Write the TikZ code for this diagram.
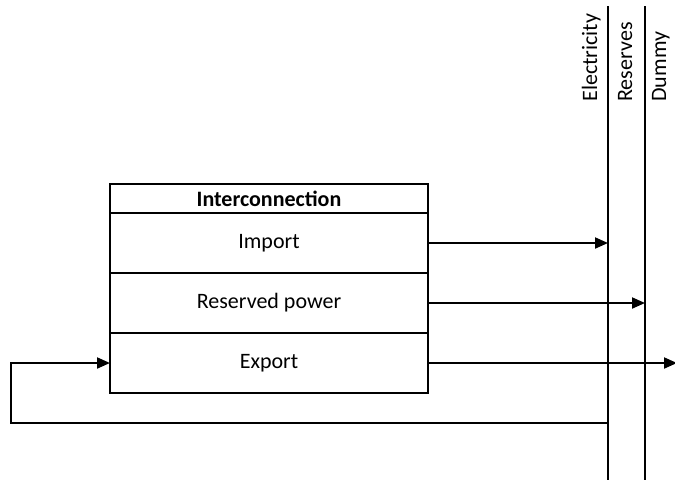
\documentclass[tikz,border=0pt]{standalone}
\usepackage{fontspec}
\setmainfont{Carlito}
\usetikzlibrary{arrows.meta, positioning}

\tikzset{
    row/.style={draw, line width=1pt, minimum width=159pt, minimum height=30pt,
                inner sep=0pt, outer sep=0pt},
    head/.style={row, minimum height=14.5pt, font=\fontsize{11}{13}\selectfont\bfseries},
    bus/.style={line width=1pt},
    flow/.style={line width=1pt, -{Triangle[length=6.5pt,width=5.5pt]}},
    buslabel/.style={rotate=90, anchor=base west, inner sep=0pt}
}

\begin{document}
\begin{tikzpicture}[x=0.5pt, y=-0.5pt, font=\fontsize{11}{13}\selectfont]
\useasboundingbox (0,0) rectangle (675,483);

% Interconnection block
\node[head, anchor=north west] (head) at (110,184) {Interconnection};
\node[row, below=0pt of head] (imp) {Import};
\node[row, below=0pt of imp] (res) {Reserved power};
\node[row, below=0pt of res] (exp) {Export};

% Buses
\coordinate (elecTop) at (608,6);
\coordinate (elecBot) at (608,480);
\coordinate (resvTop) at (645,6);
\coordinate (resvBot) at (645,480);
\coordinate (dumTop) at (677,6);

\draw[bus] (elecTop) -- (elecBot);
\draw[bus] (resvTop) -- (resvBot);

% Bus names, baseline left of each bus
\coordinate (elecLab) at (597,102);
\coordinate (resvLab) at (632,102);
\coordinate (dumLab) at (666,102);
\node[buslabel] (elec) at (elecLab) {Electricity};
\node[buslabel] (resv) at (resvLab) {Reserves};
\node[buslabel] (dum) at (dumLab) {Dummy};

% Flows
\draw[flow] (imp.east) -- (imp.east -| elecTop);
\draw[flow] (res.east) -- (res.east -| resvTop);
\draw[flow] (exp.east) -- (exp.east -| dumTop);

% Return path
\coordinate (ret) at (608,423);
\coordinate (retL) at (11,423);
\draw[flow] (ret) -- (retL) |- (exp.west);

\end{tikzpicture}
\end{document}
